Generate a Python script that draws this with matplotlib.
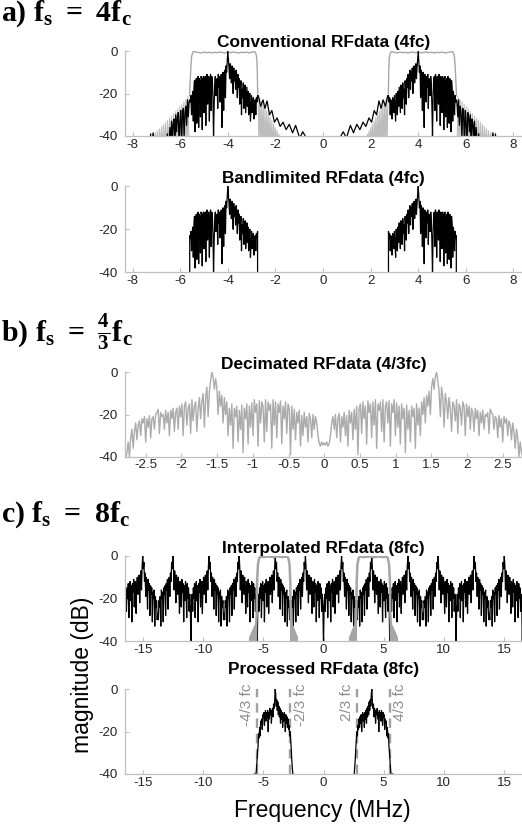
import numpy as np
import matplotlib
matplotlib.use('Agg')
import matplotlib.pyplot as plt

plt.rcParams['font.family'] = ['Liberation Sans', 'DejaVu Sans']
plt.rcParams['axes.unicode_minus'] = False
plt.rcParams['mathtext.fontset'] = 'custom'
plt.rcParams['mathtext.rm'] = 'Liberation Serif:bold'
plt.rcParams['mathtext.bf'] = 'Liberation Serif:bold'
plt.rcParams['mathtext.it'] = 'Liberation Serif:bold'

# ---------------- data ----------------
FC = 4.133                 # centre frequency (MHz)
BAND_LO = 2.755            # 2/3 fc
BAND_HI = 5.51             # 4/3 fc
DB_FLOOR = -40

titles = ["Conventional RFdata (4fc)", "Bandlimited RFdata (4fc)",
          "Decimated RFdata (4/3fc)", "Interpolated RFdata (8fc)",
          "Processed RFdata (8fc)"]
section_labels = [r"a) $\mathbf{f_s\ =\ 4f_c}$",
                  r"b) $\mathbf{f_s\ =\ \frac{4}{3}f_c}$",
                  r"c) $\mathbf{f_s\ =\ 8f_c}$"]
xticks_4fc = [-8, -6, -4, -2, 0, 2, 4, 6, 8]
xticks_43fc = [-2.5, -2, -1.5, -1, -0.5, 0, 0.5, 1, 1.5, 2, 2.5]
xtick_labels_43fc = ["-2.5", "-2", "-1.5", "-1", "-0.5", "0", "0.5", "1", "1.5", "2", "2.5"]
xticks_8fc = [-15, -10, -5, 0, 5, 10, 15]
yticks = [-40, -20, 0]
cut_labels = ["-4/3 fc", "-2/3 fc", "2/3 fc", "4/3 fc"]
cut_freqs = [-BAND_HI, -BAND_LO, BAND_LO, BAND_HI]

# RF spectrum at 4fc, positive frequencies (mirrored for negative side)
skirt_in_f = [0.75, 0.85, 0.98, 1.15, 1.28, 1.42, 1.55, 1.68, 1.8, 1.93, 2.04, 2.15,
              2.25, 2.35, 2.44, 2.52, 2.62, 2.72]
skirt_in_db = [-40, -38, -41, -35, -38.5, -34.5, -37, -33.5, -35.5, -31.5, -33.5, -28,
               -30, -23.5, -27, -23, -26, -21]
lobe_db = [-21, -24, -22, -30, -23, -26, -32, -22, -25, -29, -21, -27, -33, -20, -24, -30,
           -19, -26, -17, -23, -29, -16, -20, -27, -15, -22, -18, -30, -14, -19, -25, -13,
           -17, -11, -22, -12, -9, -18, -10, -14, -8, -20, -11, -7, -15, -9, -6, -13,
           -8, -4, 0, -5, -10, -7, -22, -9, -12, -28, -10, -15, -36, -11, -13, -24,
           -12, -17, -11, -27, -13, -14, -21, -12, -16, -26, -40, -22, -13, -12, -28, -11,
           -14, -33, -12, -13, -25, -11, -15, -35, -12, -13, -29, -12, -14, -37, -13, -12,
           -31, -14, -13, -36, -12, -15, -34, -13, -16, -38, -14, -18, -33, -19, -22, -30,
           -21, -24, -23]
lobe_f = np.linspace(2.75, 5.6, len(lobe_db))
skirt_out_db = [-24, -31, -23, -35, -26, -29, -41, -27, -30, -44, -28, -33, -45, -29, -31,
                -38, -30, -46, -32, -34, -42, -33, -47, -36, -44, -48, -39, -46, -50, -45,
                -48, -52, -47, -50, -49, -52, -50, -48, -51, -49, -46, -44, -41, -38.5, -42,
                -45, -39, -44, -48, -50]
skirt_out_f = np.linspace(5.625, 7.35, len(skirt_out_db))

# bandpass filter (4fc), positive frequencies
filt_in_db = [-46, -39.2, -46, -37.6, -47, -36.1, -46, -34.5, -47, -33.0, -46, -31.4,
              -47, -29.9, -46, -28.3, -47, -26.8, -46, -25.2, -47, -23.7, -46, -22.1,
              -44, -20.6]
filt_in_f = np.linspace(1.82, 2.73, len(filt_in_db))
filt_rise_f = [2.745, 2.76, 2.78, 2.81, 2.85]
filt_rise_db = [-20, -10, -4, -1.5, -0.6]
filt_top_db = [-0.2, -0.6, -0.9, -0.5, -0.8, -0.6, -0.9, -0.7, -0.5, -0.8, -0.6, -0.9,
               -0.7, -0.5, -0.8, -0.6, -0.9, -0.6, -0.8, -0.5, -0.9, -0.7, -0.5, -0.2]
filt_top_f = np.linspace(2.88, 5.45, len(filt_top_db))
filt_fall_f = [5.48, 5.52, 5.55, 5.58, 5.61]
filt_fall_db = [-1, -2.5, -7, -14, -21]
filt_out_db = [-46, -21.6, -47, -22.8, -46, -23.9, -47, -25.1, -46, -26.2, -47, -27.3,
               -46, -28.4, -47, -29.5, -46, -30.6, -47, -31.6, -46, -32.7, -47, -33.7,
               -46, -34.7, -47, -35.7, -46, -36.7, -47, -37.6, -46, -38.5, -47, -39.4,
               -46, -40.5, -47, -42]
filt_out_f = np.linspace(5.63, 7.3, len(filt_out_db))

# decimated spectrum (4/3 fc), positive half, mirrored
dec_db = [-33.5, -34.5, -33, -35, -33.8, -30, -24, -21,
          -27, -20, -31, -22, -19.5, -33, -21, -26, -19, -30, -20.5, -35, -18, -24, -19,
          -32, -17.5, -27, -16, -39,
          -17, -15, -29, -14, -22, -16, -34, -13.5, -19, -15, -31, -14, -25, -13, -36, -15,
          -18, -14, -28, -13, -33, -16, -14, -24, -13.5, -35, -15, -19, -13, -30, -14.5, -26,
          -16, -34, -15, -22, -17, -38, -15.5, -27, -18, -33, -16, -21, -17, -36, -15, -25,
          -17, -30, -14, -20,
          -12, -24, -11, -16, -9, -20, -7,
          -3, -8, -2, 0, -4,
          -9, -21, -7, -12, -26, -10, -14, -22,
          -12, -17, -28, -14, -16, -23, -13, -29, -15, -17, -25, -14, -16, -30, -15, -21,
          -16, -27, -17,
          -19, -28, -17, -22, -18, -30, -19, -24, -18, -27, -20, -21, -19, -29, -17.5, -19,
          -20, -27, -21, -22, -31, -20.5, -26, -22, -33, -21, -24, -22, -30, -23,
          -25, -32, -24, -28, -36, -27, -31, -40, -33, -38, -41]
dec_f = np.linspace(0.0, 2.78, len(dec_db))

# interpolated spectrum (8fc): half of one image period (0 .. 2/3 fc), mirrored and repeated
interp_half_db = [-42, -24, -18, -26, -15, -20, -13, -29, -16, -12, -21, -14, -31, -13,
                  -17, -11, -24, -14, -12, -27, -15, -10, -18, -13, -9, -22, -11, -7,
                  -16, -5, 0, -6, -3, -12, -8, -19, -10, -13, -25, -11, -16, -13, -28,
                  -14, -18, -15, -31, -17, -20, -16, -33, -19, -24, -21, -30, -27]
interp_half_f = np.linspace(0.0, BAND_LO, len(interp_half_db))
image_centres = [-3, -2, -1, 0, 1, 2, 3]      # multiples of 4/3 fc

# interpolation filter (8fc), positive frequencies
ifilt_in_db = [-46, -38, -46, -37, -46, -36, -46, -35, -46, -34, -46, -33, -46, -32]
ifilt_in_f = np.linspace(2.2, 2.68, len(ifilt_in_db))
ifilt_f = [2.72, 2.76, 2.82, 2.92, 3.05, 3.4, 3.8, 4.2, 4.6, 5.0, 5.25, 5.35, 5.45, 5.52, 5.56]
ifilt_db = [-28, -12, -4, -1, -0.2, -0.5, -0.2, -0.5, -0.2, -0.5, -0.3, -1, -4, -12, -28]
ifilt_out_db = [-32, -46, -33, -46, -34, -46, -35, -46, -36, -46, -37, -46, -38, -46]
ifilt_out_f = np.linspace(5.6, 6.1, len(ifilt_out_db))

# processed spectrum (8fc), positive frequencies, mirrored
proc_db = [-40, -37, -33, -28, -24, -20, -22, -17, -19, -14, -18, -13, -16, -12, -20, -13,
           -11, -15, -12, -18, -11, -14, -10, -16, -9, -13, -8, -12, -6, -10, -5, -8, -2,
           0, -6, -9, -7, -13, -9, -11, -16, -10, -12, -9, -14, -11, -20, -10, -13, -11,
           -15, -10, -12, -17, -11, -13, -12, -19, -14, -16, -15, -22, -18, -23, -21, -27,
           -30, -34, -38, -41]
proc_f = np.linspace(2.55, 5.62, len(proc_db))
proc_end_f = [-5.66, 5.63]
proc_end_db = [-40, -40]

# ---------------- figure ----------------
W, H = 522, 827
fig = plt.figure(figsize=(W / 100, H / 100), dpi=100)

AX_COL = '#BFBFBF'
TXT_COL = '#262626'
BLACK = '#000000'
GREY = '#A6A6A6'
LIGHT_GREY = '#BDBDBD'


def px_axes(left, top, right, bottom):
    return fig.add_axes([left / W, 1 - bottom / H, (right - left) / W, (bottom - top) / H])


def style(ax, xlim, xticks, xlabels=None):
    ax.set_xlim(*xlim)
    ax.set_ylim(DB_FLOOR, 0)
    ax.set_xticks(xticks)
    if xlabels is not None:
        ax.set_xticklabels(xlabels)
    else:
        ax.set_xticklabels([('%g' % t) for t in xticks])
    ax.set_yticks(yticks)
    ax.set_yticklabels([('%g' % t) for t in yticks])
    for s in ['top', 'right']:
        ax.spines[s].set_visible(False)
    for s in ['left', 'bottom']:
        ax.spines[s].set_color(AX_COL)
        ax.spines[s].set_linewidth(0.9)
    ax.tick_params(direction='in', length=3, width=0.8, color=AX_COL,
                   labelsize=9.6, labelcolor=TXT_COL)
    ax.tick_params(axis='x', pad=2)
    ax.tick_params(axis='y', pad=5)
    ax.patch.set_alpha(0)


def both_sides(f, db):
    f = np.asarray(f, float)
    db = np.asarray(db, float)
    return [(f, db), (-f, db)]


# spectrum pieces
black4_f = np.concatenate([skirt_in_f, lobe_f, skirt_out_f])
black4_db = np.concatenate([skirt_in_db, lobe_db, skirt_out_db])
filt4_f = np.concatenate([filt_rise_f, filt_top_f, filt_fall_f])
filt4_db = np.concatenate([filt_rise_db, filt_top_db, filt_fall_db])

# ---- panel a1: conventional
ax1 = px_axes(125, 51, 522, 136)
for f, d in both_sides(filt_in_f, filt_in_db) + both_sides(filt_out_f, filt_out_db):
    ax1.plot(f, d, color=LIGHT_GREY, lw=0.8)
for f, d in both_sides(filt4_f, filt4_db):
    ax1.plot(f, d, color=GREY, lw=1.0)
for f, d in both_sides(black4_f, black4_db):
    ax1.plot(f, d, color=BLACK, lw=0.9)
style(ax1, (-8.32, 8.36), xticks_4fc)
ax1.set_title(titles[0], fontsize=12.4, fontweight='bold', pad=3, color=BLACK)

# ---- panel a2: bandlimited
ax2 = px_axes(125, 186.3, 522, 272.3)
band_f = np.concatenate([[lobe_f[0]], lobe_f, [lobe_f[-1]]])
band_db = np.concatenate([[DB_FLOOR], lobe_db, [DB_FLOOR]])
for f, d in both_sides(band_f, band_db):
    ax2.plot(f, d, color=BLACK, lw=0.9)
style(ax2, (-8.32, 8.36), xticks_4fc)
ax2.set_title(titles[1], fontsize=12.4, fontweight='bold', pad=2, color=BLACK)

# ---- panel b: decimated
ax3 = px_axes(125, 372.3, 522, 456.7)
dec_full_f = np.concatenate([-dec_f[::-1], dec_f[1:]])
dec_full_db = np.concatenate([np.asarray(dec_db)[::-1], dec_db[1:]])
ax3.plot(dec_full_f, dec_full_db, color='#ABABAB', lw=1.0)
style(ax3, (-2.79, 2.77), xticks_43fc, xtick_labels_43fc)
ax3.set_title(titles[2], fontsize=12.4, fontweight='bold', pad=2, color=BLACK)

# ---- panel c1: interpolated
ax4 = px_axes(125, 556, 522, 641)
period_f = np.concatenate([-interp_half_f[:0:-1], interp_half_f[:-1]])
period_db = np.concatenate([np.asarray(interp_half_db)[:0:-1], interp_half_db[:-1]])
period = 2 * BAND_LO
int_f = np.concatenate([period_f + k * period for k in image_centres])
int_db = np.tile(period_db, len(image_centres))
ax4.plot(int_f, int_db, color=BLACK, lw=0.9)
ifilt_all_f = np.concatenate([ifilt_in_f, ifilt_f, ifilt_out_f])
ifilt_all_db = np.concatenate([ifilt_in_db, ifilt_db, ifilt_out_db])
for f, d in both_sides(ifilt_all_f, ifilt_all_db):
    ax4.plot(f, d, color=GREY, lw=1.8)
style(ax4, (-16.5, 16.5), xticks_8fc)
ax4.set_title(titles[3], fontsize=12.4, fontweight='bold', pad=2, color=BLACK)

# ---- panel c2: processed
ax5 = px_axes(125, 689.3, 522, 774)
for xc in cut_freqs:
    ax5.plot([xc, xc], [DB_FLOOR, 0], color='#A0A0A0', lw=1.7, ls=(0, (4, 2.5)))
for f, d in both_sides(proc_f, proc_db):
    ax5.plot(f, d, color=BLACK, lw=0.9)
ax5.plot(proc_end_f, proc_end_db, ls='none', marker='s', ms=1.5, color='#3050E0')
for lab, xc in zip(cut_labels, cut_freqs):
    left_side = lab.startswith('-4') or lab.startswith('2')
    ax5.annotate(lab, xy=(xc, 0), xytext=(-2 if left_side else 2.5, 4.5),
                 textcoords='offset points', rotation=90,
                 ha='right' if left_side else 'left', va='top',
                 fontsize=11, color='#8C8C8C', annotation_clip=False)
style(ax5, (-16.5, 16.5), xticks_8fc)
ax5.set_title(titles[4], fontsize=12.4, fontweight='bold', pad=11, color=BLACK)

# axis labels
fig.text(82 / W, 1 - 675 / H, 'magnitude (dB)', rotation=90, ha='center', va='center',
         fontsize=16.5, color=BLACK)
fig.text(322 / W, 1 - 811 / H, 'Frequency (MHz)', ha='center', va='center',
         fontsize=16.5, color=BLACK)

# section labels
sec_y = [21, 342, 522]
for lab, y in zip(section_labels, sec_y):
    fig.text(1 / W, 1 - y / H, lab, ha='left', va='baseline', fontsize=21.5,
             family='Liberation Serif', fontweight='bold', color=BLACK)

fig.savefig('out.png', dpi=100)
